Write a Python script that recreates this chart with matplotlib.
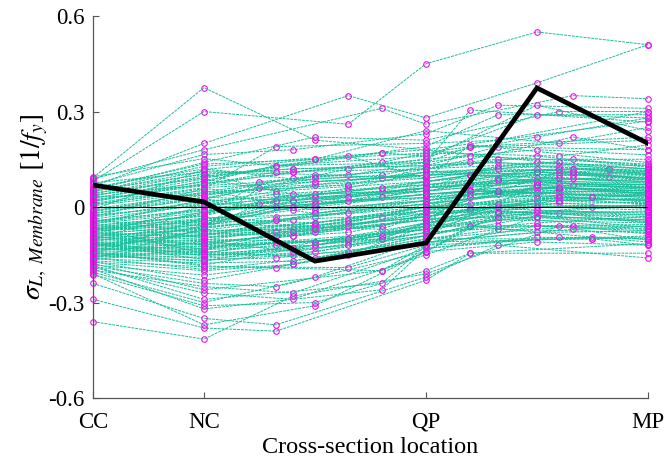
import numpy as np
import matplotlib
matplotlib.use('Agg')
from matplotlib import pyplot as plt

plt.rcParams['font.family'] = ['Liberation Serif', 'DejaVu Serif']
plt.rcParams['mathtext.fontset'] = 'stix'
plt.rcParams['axes.unicode_minus'] = False

# station positions along the member (normalised)
station_pos = [0.0, 0.2, 0.6, 1.0]
station_names = ['CC', 'NC', 'QP', 'MP']

# intermediate station positions of each member
a_pos = [0.40, 0.46, 0.46, 0.52, 0.36, 0.40, 0.33, 0.52, 0.46, 0.40,
         0.36, 0.40, 0.52, 0.33, 0.46, 0.40, 0.36, 0.52, 0.40, 0.46,
         0.33, 0.40, 0.46, 0.36, 0.52, 0.40, 0.33, 0.46, 0.36, 0.40,
         0.40, 0.36, 0.52, 0.33, 0.46, 0.40, 0.36, 0.52, 0.30, 0.40,
         0.46, 0.36, 0.40, 0.33, 0.36, 0.52, 0.40, 0.46, 0.33, 0.40,
         0.36, 0.40, 0.52, 0.33, 0.40, 0.46, 0.36, 0.30, 0.40, 0.52,
         0.36, 0.40, 0.33, 0.52, 0.46, 0.40, 0.36, 0.33, 0.46, 0.40,
         0.36, 0.52, 0.33, 0.40, 0.46, 0.36, 0.40, 0.33, 0.52, 0.40,
         0.36, 0.40, 0.46, 0.40, 0.33, 0.36, 0.33, 0.46, 0.52, 0.40,
         0.33, 0.36, 0.40, 0.33, 0.30, 0.52, 0.36, 0.46, 0.40, 0.33,
         0.36, 0.40, 0.46, 0.33, 0.52, 0.40, 0.36, 0.46, 0.40, 0.33,
         0.40, 0.52, 0.36, 0.46, 0.40, 0.33, 0.36, 0.40, 0.46, 0.52,
         0.40, 0.36, 0.33, 0.46, 0.40, 0.52, 0.36, 0.40, 0.46, 0.33]
b_pos = [0.93, 0.80, 0.80, 0.865, 0.73, 0.84, 0.73, 0.80, 0.68, 0.84,
         0.73, 0.80, 0.84, 0.68, 0.865, 0.73, 0.80, 0.93, 0.84, 0.68,
         0.80, 0.73, 0.84, 0.68, 0.73, 0.80, 0.84, 0.865, 0.68, 0.80,
         0.73, 0.84, 0.68, 0.80, 0.68, 0.73, 0.84, 0.90, 0.80, 0.865,
         0.80, 0.93, 0.73, 0.84, 0.68, 0.80, 0.865, 0.73, 0.84, 0.80,
         0.73, 0.68, 0.80, 0.84, 0.80, 0.90, 0.73, 0.84, 0.68, 0.80,
         0.68, 0.84, 0.80, 0.73, 0.865, 0.73, 0.68, 0.80, 0.84, 0.865,
         0.90, 0.73, 0.68, 0.84, 0.80, 0.80, 0.73, 0.84, 0.80, 0.73,
         0.80, 0.90, 0.84, 0.68, 0.73, 0.865, 0.73, 0.80, 0.84, 0.68,
         0.68, 0.84, 0.73, 0.80, 0.865, 0.73, 0.68, 0.80, 0.84, 0.73,
         0.80, 0.73, 0.84, 0.68, 0.80, 0.865, 0.73, 0.84, 0.68, 0.80,
         0.84, 0.73, 0.80, 0.68, 0.865, 0.80, 0.73, 0.84, 0.80, 0.68,
         0.73, 0.80, 0.84, 0.865, 0.68, 0.80, 0.73, 0.84, 0.80, 0.90]

# membrane stress per member at each station
s_cc = [0.092, 0.081, 0.064, 0.088, 0.071, 0.053, 0.095, 0.047, 0.076, 0.058,
        0.034, 0.062, 0.018, 0.041, -0.006, 0.027, 0.049, 0.012, -0.021, 0.036,
        -0.038, 0.009, -0.052, -0.014, 0.023, -0.067, -0.029, 0.004, -0.083, -0.045,
        -0.061, -0.097, -0.033, -0.074, -0.112, -0.048, -0.089, -0.126, -0.058, -0.103,
        -0.118, -0.072, -0.139, -0.094, -0.151, -0.108, -0.066, -0.131, -0.087, -0.145,
        -0.162, -0.121, -0.078, -0.148, -0.104, -0.169, -0.133, -0.092, -0.157, -0.115,
        -0.011, -0.043, 0.016, -0.077, -0.025, -0.136, 0.039, -0.058, -0.099, -0.142,
        -0.173, -0.128, -0.186, -0.081, -0.153, -0.198, -0.069, -0.117, -0.177, -0.141,
        -0.190, -0.205, -0.160, -0.212, -0.137, -0.182, -0.240, -0.125, -0.195, -0.150,
        -0.290, -0.360, -0.210, -0.172, -0.108, -0.185, -0.120, -0.054, -0.094, -0.030,
        -0.072, -0.013, -0.119, 0.028, -0.091, -0.047, -0.158, 0.007, -0.134, -0.064,
        -0.101, 0.044, -0.082, -0.147, -0.019, -0.113, 0.052, -0.039, -0.166, -0.086,
        -0.056, -0.124, 0.021, -0.097, -0.008, -0.143, -0.071, 0.033, -0.109, -0.162]
s_nc = [0.375, 0.300, 0.200, 0.180, 0.165, 0.140, 0.152, 0.128, 0.110, 0.135,
        0.098, 0.120, 0.074, 0.105, 0.042, 0.088, 0.113, 0.061, 0.026, 0.093,
        0.008, 0.052, -0.018, 0.031, 0.067, -0.035, 0.014, 0.046, -0.062, -0.006,
        -0.041, -0.083, 0.019, -0.057, -0.102, -0.012, -0.074, -0.118, -0.029, -0.091,
        -0.108, -0.047, -0.134, -0.066, -0.149, -0.097, -0.023, -0.125, -0.055, -0.161,
        -0.176, -0.114, -0.038, -0.143, -0.087, -0.188, -0.131, -0.069, -0.157, -0.104,
        0.037, -0.009, 0.082, -0.051, 0.004, -0.122, 0.069, -0.027, -0.078, -0.139,
        -0.200, -0.152, -0.240, -0.095, -0.168, -0.250, -0.044, -0.137, -0.260, -0.182,
        -0.270, -0.300, -0.196, -0.310, -0.112, -0.214, -0.350, -0.085, -0.320, -0.170,
        -0.380, -0.415, -0.370, -0.230, -0.063, -0.290, -0.147, 0.024, -0.119, 0.057,
        -0.021, 0.046, -0.088, 0.079, -0.132, 0.012, -0.107, 0.058, -0.073, -0.146,
        -0.052, 0.091, -0.119, -0.034, 0.028, -0.165, 0.103, -0.081, -0.128, 0.003,
        -0.096, -0.059, 0.072, -0.014, 0.118, -0.185, -0.045, 0.036, -0.153, -0.067]
s_a = [0.21, 0.26, 0.35, 0.31, 0.18, 0.22, 0.13, 0.17, 0.10, 0.15,
       0.12, 0.08, 0.14, 0.05, 0.07, 0.03, 0.11, 0.09, -0.02, 0.16,
       0.04, -0.01, 0.06, 0.02, 0.10, -0.05, 0.00, 0.07, -0.04, 0.03,
       -0.06, -0.09, 0.05, -0.03, -0.11, 0.01, -0.07, -0.10, 0.08, -0.02,
       -0.08, 0.02, -0.12, -0.04, -0.15, -0.06, 0.04, -0.10, 0.00, -0.14,
       -0.17, -0.08, 0.03, -0.12, -0.05, -0.19, -0.09, 0.01, -0.13, -0.03,
       0.09, 0.00, 0.13, -0.07, 0.05, -0.11, 0.11, 0.02, -0.04, -0.16,
       -0.18, -0.10, -0.25, -0.06, -0.14, -0.27, 0.02, -0.08, -0.20, -0.12,
       -0.29, -0.22, -0.15, -0.30, -0.09, -0.18, -0.37, -0.05, -0.26, -0.11,
       -0.39, -0.28, -0.31, -0.19, 0.06, -0.24, -0.13, 0.12, -0.07, 0.19,
       0.04, 0.10, -0.06, 0.13, -0.09, 0.07, -0.14, 0.02, -0.03, -0.11,
       0.01, 0.17, -0.08, -0.02, 0.09, -0.16, 0.12, -0.05, -0.10, 0.06,
       -0.07, 0.00, 0.11, 0.03, 0.15, -0.20, -0.01, 0.08, -0.12, -0.04]
s_qp = [0.18, 0.45, 0.28, 0.26, 0.23, 0.21, 0.19, 0.16, 0.14, 0.24,
        0.13, 0.10, 0.17, 0.08, 0.12, 0.06, 0.15, 0.11, 0.03, 0.09,
        0.07, 0.02, 0.11, 0.05, 0.13, 0.00, 0.04, 0.10, -0.02, 0.06,
        -0.01, -0.04, 0.08, 0.01, -0.06, 0.05, -0.03, -0.05, 0.12, 0.02,
        -0.03, 0.06, -0.07, 0.01, -0.09, -0.02, 0.07, -0.05, 0.04, -0.08,
        -0.10, -0.01, 0.06, -0.07, 0.00, -0.12, -0.04, 0.03, -0.08, 0.01,
        0.12, 0.04, 0.16, -0.02, 0.08, -0.06, 0.14, 0.05, 0.00, -0.10,
        -0.11, -0.05, -0.14, -0.01, -0.09, -0.13, 0.06, -0.03, -0.12, -0.07,
        -0.15, -0.10, -0.06, -0.20, -0.04, -0.11, -0.22, 0.00, -0.13, -0.05,
        -0.23, -0.21, -0.14, -0.09, 0.09, -0.12, -0.06, 0.15, -0.02, 0.20,
        0.05, 0.09, -0.02, 0.14, -0.05, 0.11, -0.09, 0.07, 0.02, -0.07,
        0.03, 0.18, -0.04, 0.01, 0.10, -0.11, 0.13, -0.01, -0.06, 0.08,
        -0.03, 0.04, 0.12, 0.06, 0.17, -0.14, 0.02, 0.10, -0.08, 0.00]
s_b = [0.12, 0.55, 0.39, 0.35, 0.32, 0.30, 0.29, 0.22, 0.305, 0.20,
       0.19, 0.14, 0.16, 0.10, 0.22, 0.085, 0.18, 0.12, 0.06, 0.195,
       0.11, 0.05, 0.13, 0.075, 0.14, 0.03, 0.063, 0.12, 0.01, 0.09,
       0.04, 0.013, 0.10, 0.053, -0.003, 0.085, 0.03, 0.00, 0.16, 0.07,
       0.02, 0.094, -0.03, 0.055, -0.06, 0.01, 0.11, -0.015, 0.075, -0.06,
       -0.07, 0.03, 0.12, -0.02, 0.063, -0.095, -0.03, 0.10, -0.01, 0.045,
       0.14, 0.06, 0.29, -0.015, 0.12, -0.06, 0.19, 0.08, 0.03, -0.06,
       -0.10, 0.00, -0.06, 0.05, -0.03, -0.095, 0.13, 0.02, -0.06, -0.015,
       -0.03, -0.10, 0.04, -0.145, 0.09, -0.07, -0.12, 0.11, -0.095, 0.055,
       -0.145, -0.06, -0.02, 0.07, 0.15, -0.03, 0.07, 0.32, 0.11, 0.21,
       0.08, 0.12, 0.02, 0.16, -0.01, 0.10, -0.04, 0.09, 0.05, -0.02,
       0.06, 0.21, 0.00, 0.04, 0.11, -0.08, 0.15, 0.03, -0.03, 0.10,
       0.01, 0.07, 0.14, 0.09, 0.19, -0.11, 0.05, 0.12, -0.05, 0.03]
s_mp = [0.10, 0.51, 0.51, 0.34, 0.31, 0.30, 0.29, 0.28, 0.267, 0.25,
        0.21, 0.12, 0.195, 0.08, 0.18, 0.06, 0.164, 0.11, 0.04, 0.14,
        0.09, 0.03, 0.12, 0.07, 0.105, 0.01, 0.05, 0.115, -0.01, 0.08,
        0.02, -0.005, 0.10, 0.045, -0.02, 0.075, 0.035, 0.00, 0.125, 0.055,
        0.025, 0.095, -0.045, 0.06, -0.06, 0.015, 0.085, -0.015, 0.07, -0.07,
        -0.08, 0.04, 0.09, -0.05, 0.065, -0.095, 0.01, 0.11, -0.035, 0.03,
        0.13, 0.05, 0.28, -0.025, 0.10, -0.055, 0.22, 0.06, 0.02, -0.085,
        -0.09, 0.005, -0.11, 0.045, -0.04, -0.10, 0.115, 0.025, -0.075, -0.03,
        -0.065, -0.12, 0.035, -0.145, 0.07, -0.06, -0.16, 0.085, -0.10, 0.015,
        -0.115, -0.105, -0.045, 0.04, 0.13, -0.07, 0.05, 0.24, 0.09, 0.30,
        0.065, 0.105, 0.01, 0.135, -0.025, 0.09, -0.05, 0.075, 0.035, -0.015,
        0.045, 0.27, 0.005, 0.055, 0.10, -0.075, 0.15, 0.02, -0.04, 0.085,
        0.00, 0.06, 0.12, 0.08, 0.18, -0.12, 0.04, 0.11, -0.03, 0.025]

# highlighted member
hl_x = [0.0, 0.2, 0.4, 0.6, 0.8, 1.0]
hl_y = [0.069, 0.016, -0.17, -0.113, 0.374, 0.20]

teal = '#1ABF9C'
mag = '#EE11EE'

fig = plt.figure(figsize=(6.66, 4.62), dpi=100)
ax = fig.add_axes([0.1396, 0.1385, 0.8333, 0.8268])

for i in range(len(s_cc)):
    xs = [0.0, 0.2, a_pos[i], 0.6, b_pos[i], 1.0]
    ys = [s_cc[i], s_nc[i], s_a[i], s_qp[i], s_b[i], s_mp[i]]
    ax.plot(xs, ys, ls=(0, (3, 1)), lw=0.7, color=teal, marker='o', ms=4,
            mfc='none', mec=mag, mew=0.8, clip_on=False, zorder=2)

ax.axhline(0, color='black', lw=0.8, zorder=3)
ax.plot(hl_x, hl_y, color='black', lw=3.4, solid_joinstyle='miter', zorder=4)

ax.set_xlim(0, 1)
ax.set_ylim(-0.6, 0.6)
ax.set_xticks(station_pos)
ax.set_xticklabels(station_names)
ax.set_yticks([-0.6, -0.3, 0, 0.3, 0.6])
ax.set_yticklabels(['-0.6', '-0.3', '0', '0.3', '0.6'])
ax.tick_params(direction='in', length=4, width=0.8, color='#555555', labelsize=16.5)
ax.tick_params(axis='x', pad=10)
ax.tick_params(axis='y', pad=6)
for s in ['top', 'right']:
    ax.spines[s].set_visible(False)
for s in ['left', 'bottom']:
    ax.spines[s].set_color('#555555')
    ax.spines[s].set_linewidth(0.9)

ax.set_xlabel('Cross-section location', fontsize=17.5, labelpad=3)
ax.set_ylabel(r'$\sigma_{L,\ Membrane}\ [1/f_y]$', fontsize=20, labelpad=-1)

fig.savefig('out.png', dpi=100)
